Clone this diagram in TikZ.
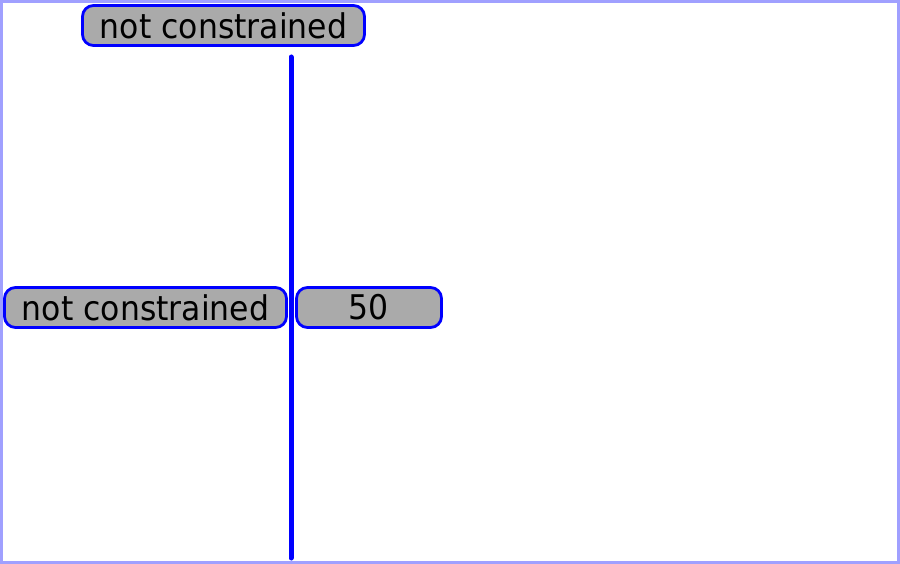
\documentclass[tikz,border=0pt]{standalone}
\usepackage{fontspec}
\setmainfont{DejaVu Sans}
\definecolor{frame}{HTML}{A0A0FF}
\definecolor{boxfill}{HTML}{AAAAAA}
\newcommand{\tallt}[1]{\scalebox{1}[1.08]{#1}}
\begin{document}
\begin{tikzpicture}[x=1pt,y=-1pt,
  lbl/.style={draw=blue, line width=2.8pt, fill=boxfill, rounded corners=11pt,
    minimum height=40pt, inner sep=0pt, font=\fontsize{31.5}{36}\selectfont, text=black}]
\useasboundingbox (0,0) rectangle (900,564);
\draw[frame, line width=3pt] (1.5,1.5) rectangle (898.5,562.5);
\coordinate (top) at (291,57);
\coordinate (bot) at (291,558);
\draw[blue, line width=5pt, line cap=round] (top) -- (bot);
\node[lbl, minimum width=282pt] (t) at (223.5,25.5) {\tallt{not constrained}};
\node[lbl, minimum width=282pt] (l) at (145.5,307.5) {\tallt{not constrained}};
\node[lbl, minimum width=145pt] (v) at (369,307.5) {\tallt{50}};
\end{tikzpicture}
\end{document}
